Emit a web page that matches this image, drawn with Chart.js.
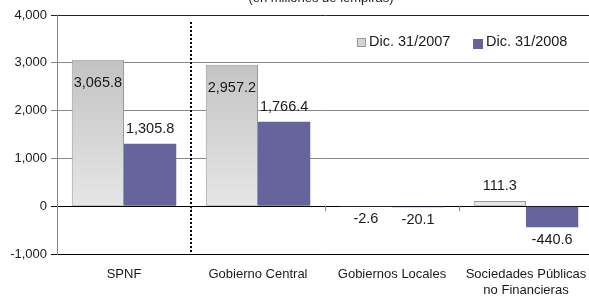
<!DOCTYPE html>
<html lang="es">
<head>
    <meta charset="UTF-8">
    <title>SPNF - Dic. 2007 vs Dic. 2008</title>
    <script src="https://cdn.jsdelivr.net/npm/chart.js"></script>
    <style>
        html, body { margin: 0; padding: 0; background: #fff; overflow: hidden; }
        #wrap { width: 593px; height: 296px; position: relative; }
    </style>
</head>
<body>
<div id="wrap"><canvas id="chart"></canvas></div>
<script>
    // datos (millones de lempiras)
    const categorias = ['SPNF', 'Gobierno Central', 'Gobiernos Locales', ['Sociedades Públicas', 'no Financieras']];
    const dic2007 = [3065.8, 2957.2, -2.6, 111.3];
    const dic2008 = [1305.8, 1766.4, -20.1, -440.6];
    const serieNombres = ['Dic. 31/2007', 'Dic. 31/2008'];
    const yTicks = [-1000, 0, 1000, 2000, 3000, 4000];

    const FONT = '"Liberation Sans", Arial, sans-serif';
    const morado = '#65659b';

    function fmt(v) {
        return v.toLocaleString('en-US', { minimumFractionDigits: 1, maximumFractionDigits: 1 });
    }

    function grisGradiente(ctx) {
        const chart = ctx.chart;
        const area = chart.chartArea;
        if (!area) return '#d0d0d0';
        const y0 = chart.scales.y.getPixelForValue(0);
        const g = chart.ctx.createLinearGradient(0, area.top, 0, y0);
        g.addColorStop(0, '#b8b8b8');
        g.addColorStop(1, '#e6e6e6');
        return g;
    }

    // etiquetas, linea punteada, leyenda y subtitulo
    const extras = {
        id: 'extras',
        afterDatasetsDraw(chart) {
            const c = chart.ctx;
            const area = chart.chartArea;
            const xs = chart.scales.x;
            const ys = chart.scales.y;
            const y0 = ys.getPixelForValue(0);
            const catW = (area.right - area.left) / categorias.length;

            c.save();

            // marcas en la linea del cero
            c.strokeStyle = '#888';
            c.lineWidth = 1;
            for (let i = 1; i < categorias.length; i++) {
                const x = Math.round(xs.getPixelForValue(i) - catW / 2) + 0.5;
                c.beginPath();
                c.moveTo(x, y0);
                c.lineTo(x, y0 + 5);
                c.stroke();
            }

            // linea punteada entre SPNF y el resto
            const xd = Math.round(xs.getPixelForValue(0) + catW / 2);
            c.strokeStyle = '#000';
            c.lineWidth = 2;
            c.setLineDash([2, 2]);
            c.beginPath();
            c.moveTo(xd, area.top + 7);
            c.lineTo(xd, area.bottom);
            c.stroke();
            c.setLineDash([]);

            // valores
            c.font = '14.5px ' + FONT;
            c.fillStyle = '#1a1a1a';
            c.textAlign = 'center';
            c.textBaseline = 'middle';
            chart.data.datasets.forEach((ds, di) => {
                const meta = chart.getDatasetMeta(di);
                meta.data.forEach((bar, i) => {
                    const v = ds.data[i];
                    let y;
                    if (v > 2000 && di === 0) y = bar.y + 23;
                    else if (v >= 0) y = bar.y - 15;
                    else y = Math.max(bar.y, y0) + 13;
                    c.fillText(fmt(v), bar.x, y);
                });
            });

            // leyenda
            const ly = 42;
            c.font = '14.5px ' + FONT;
            c.textAlign = 'left';
            c.fillStyle = '#d4d4d4';
            c.fillRect(357, ly - 4, 9, 9);
            c.strokeStyle = '#999';
            c.lineWidth = 1;
            c.strokeRect(357.5, ly - 3.5, 8, 8);
            c.fillStyle = '#1a1a1a';
            c.fillText(serieNombres[0], 369, ly);
            c.fillStyle = morado;
            c.fillRect(473, ly - 3, 10, 10);
            c.fillStyle = '#1a1a1a';
            c.fillText(serieNombres[1], 486, ly);

            // subtitulo (cortado arriba)
            c.font = '13px ' + FONT;
            c.textAlign = 'center';
            c.textBaseline = 'alphabetic';
            c.fillText('(en millones de lempiras)', 321, 2);

            c.restore();
        }
    };

    new Chart(document.getElementById('chart'), {
        type: 'bar',
        data: {
            labels: categorias,
            datasets: [{
                label: serieNombres[0],
                data: dic2007,
                backgroundColor: grisGradiente,
                borderColor: '#999',
                borderWidth: 1,
                borderSkipped: false
            }, {
                label: serieNombres[1],
                data: dic2008,
                backgroundColor: morado,
                borderWidth: 0
            }]
        },
        options: {
            responsive: true,
            maintainAspectRatio: false,
            animation: false,
            events: [],
            layout: { padding: { top: 15, right: 0, left: 0, bottom: 0 } },
            datasets: {
                bar: { categoryPercentage: 0.78, barPercentage: 1.0 }
            },
            plugins: {
                legend: { display: false },
                tooltip: { enabled: false },
                title: { display: false }
            },
            scales: {
                x: {
                    offset: true,
                    grid: { display: false, drawTicks: false },
                    border: { display: true, color: '#000', width: 1 },
                    ticks: {
                        padding: 13,
                        color: '#1a1a1a',
                        font: { family: FONT, size: 13 },
                        maxRotation: 0,
                        autoSkip: false
                    },
                    afterFit(scale) {
                        scale.height = 42;
                        scale.paddingLeft = 0;
                        scale.paddingRight = 0;
                    }
                },
                y: {
                    min: yTicks[0],
                    max: yTicks[yTicks.length - 1],
                    afterBuildTicks(scale) { scale.ticks = yTicks.map(v => ({ value: v })); },
                    grid: {
                        tickLength: 6,
                        color(ctx) {
                            const v = ctx.tick ? ctx.tick.value : null;
                            if (v === 0 || v === -1000) return '#000';
                            if (v === 4000) return '#222';
                            return '#888';
                        }
                    },
                    border: { display: true, color: '#888', width: 1 },
                    ticks: {
                        padding: 4,
                        color: '#1a1a1a',
                        font: { family: FONT, size: 13 },
                        callback: v => v.toLocaleString('en-US')
                    },
                    afterFit(scale) { scale.width = 57; }
                }
            }
        },
        plugins: [extras]
    });
</script>
</body>
</html>
